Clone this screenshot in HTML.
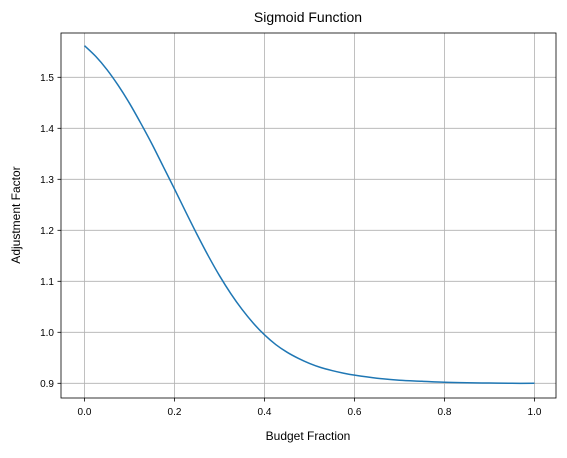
<!DOCTYPE html>
<html><head><meta charset="utf-8"><style>
body{margin:0;background:#fff;}
svg{font-family:"Liberation Sans","DejaVu Sans",sans-serif;}
</style></head><body>
<svg id="chart" width="567" height="453">
<rect x="0" y="0" width="567" height="453" fill="#fff"/>
<g id="grid"></g>
<g id="ticks"></g>
<path id="curve" fill="none" stroke="#1f77b4" stroke-width="1.5"/>
<rect x="61" y="33" width="495" height="365" fill="none" stroke="#000" stroke-width="0.8"/>
<text x="308" y="22" text-anchor="middle" font-size="14">Sigmoid Function</text>
<text x="308" y="440" text-anchor="middle" font-size="12">Budget Fraction</text>
<text x="20" y="215" text-anchor="middle" font-size="12" transform="rotate(-90 20 215)">Adjustment Factor</text>
</svg>
<script>
const xs=[0,0.025,0.05,0.075,0.1,0.125,0.15,0.175,0.2,0.225,0.25,0.275,0.3,0.325,0.35,0.375,0.4,0.425,0.45,0.475,0.5,0.525,0.55,0.575,0.6,0.65,0.7,0.75,0.8,0.85,0.9,0.95,1.0];
const ys=[1.562,1.541,1.515,1.484,1.449,1.410,1.369,1.325,1.281,1.236,1.192,1.150,1.111,1.076,1.045,1.018,0.995,0.976,0.961,0.949,0.939,0.931,0.925,0.920,0.916,0.910,0.906,0.904,0.902,0.901,0.9005,0.9,0.9];
const xTicks=[0,0.2,0.4,0.6,0.8,1.0];
const xTickLabels=["0.0","0.2","0.4","0.6","0.8","1.0"];
const yTicks=[0.9,1.0,1.1,1.2,1.3,1.4,1.5];
const yTickLabels=["0.9","1.0","1.1","1.2","1.3","1.4","1.5"];
const X=v=>84.5+v*450;
const Y=v=>383.3-(v-0.9)*510;
const ns="http://www.w3.org/2000/svg";
const grid=document.getElementById('grid'),tk=document.getElementById('ticks');
function mk(tag,attrs,parent){const e=document.createElementNS(ns,tag);for(const k in attrs)e.setAttribute(k,attrs[k]);parent.appendChild(e);return e;}
xTicks.forEach((t,i)=>{
 const g=mk('line',{x1:X(t),x2:X(t),y1:33,y2:398,stroke:'#b0b0b0','stroke-width':0.8},grid);
 
 
 mk('line',{x1:X(t),x2:X(t),y1:398,y2:401.5,stroke:'#000','stroke-width':0.8},tk);
 const l=mk('text',{x:X(t),y:415,'text-anchor':'middle','font-size':10},tk);
 l.textContent=xTickLabels[i];
 
 
});
yTicks.forEach((t,i)=>{
 const g=mk('line',{x1:61,x2:556,y1:Y(t),y2:Y(t),stroke:'#b0b0b0','stroke-width':0.8},grid);
 
 
 mk('line',{x1:57.5,x2:61,y1:Y(t),y2:Y(t),stroke:'#000','stroke-width':0.8},tk);
 const l=mk('text',{x:54,y:Y(t)+3.5,'text-anchor':'end','font-size':10},tk);
 l.textContent=yTickLabels[i];
 
 
});
const P=xs.map((x,i)=>[X(x),Y(ys[i])]);
let d='M'+P[0][0]+','+P[0][1];
for(let i=0;i<P.length-1;i++){
 const p0=P[Math.max(0,i-1)],p1=P[i],p2=P[i+1],p3=P[Math.min(P.length-1,i+2)];
 const c1=[p1[0]+(p2[0]-p0[0])/6,p1[1]+(p2[1]-p0[1])/6];
 const c2=[p2[0]-(p3[0]-p1[0])/6,p2[1]-(p3[1]-p1[1])/6];
 d+=` C${c1[0]},${c1[1]} ${c2[0]},${c2[1]} ${p2[0]},${p2[1]}`;
}
document.getElementById('curve').setAttribute('d',d);
</script>
</body></html>
